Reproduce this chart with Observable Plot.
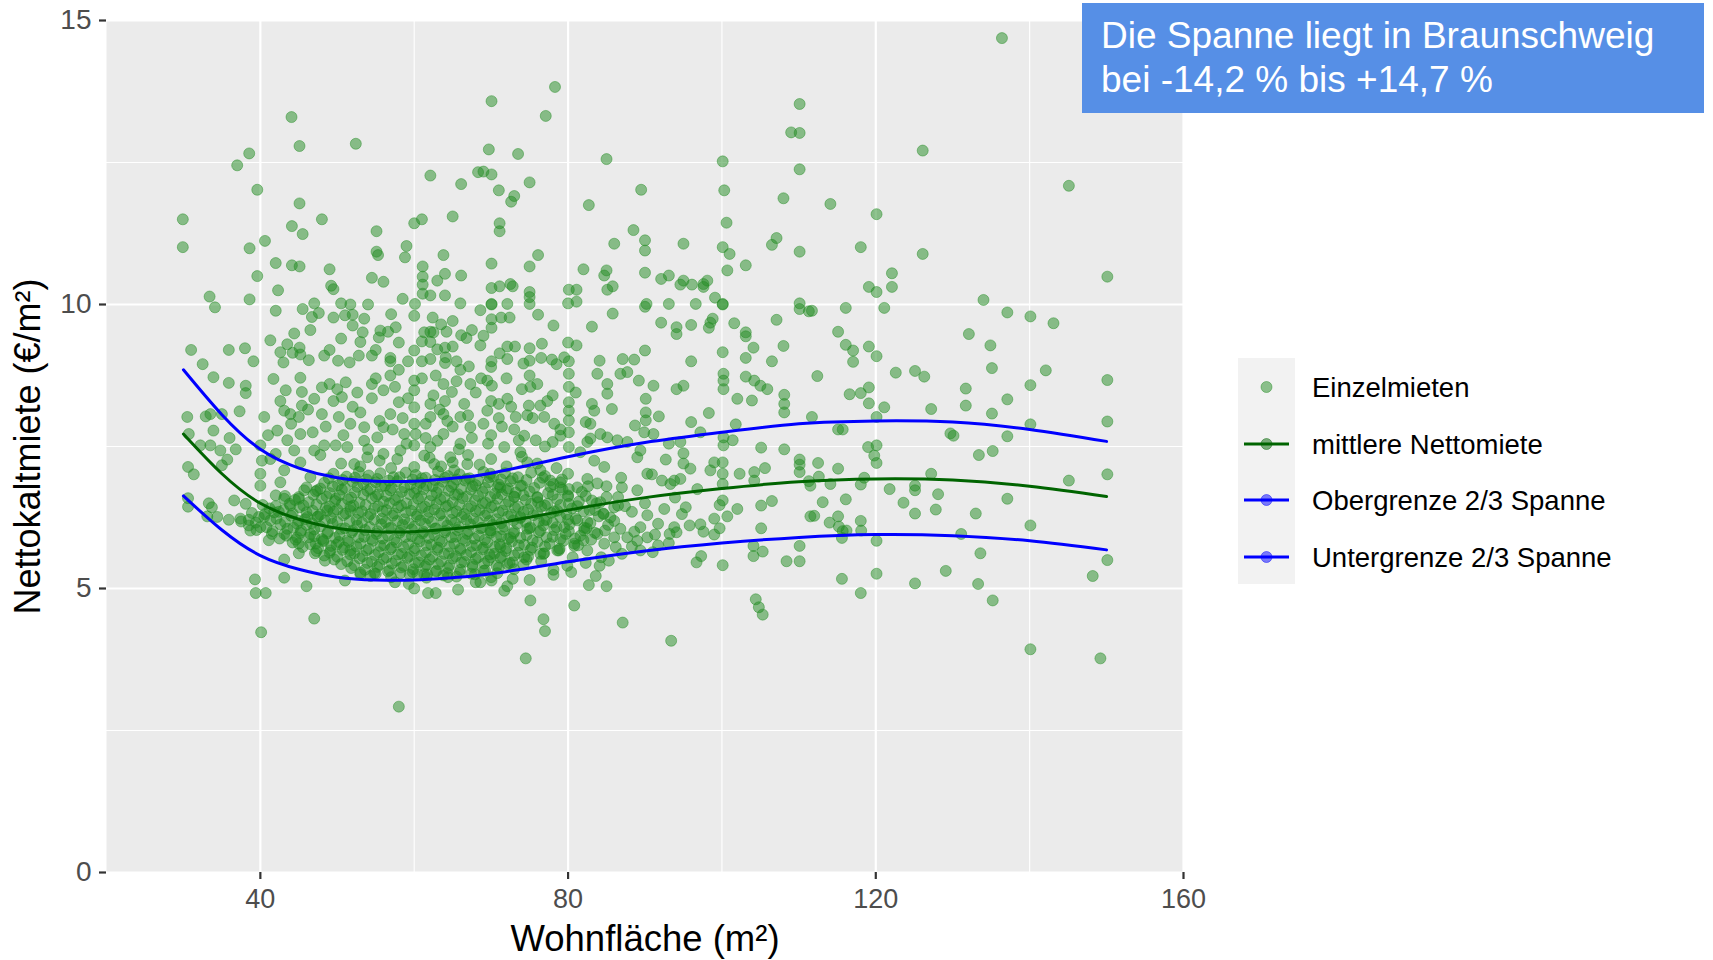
<!DOCTYPE html>
<html>
<head>
<meta charset="utf-8">
<script src="https://cdn.jsdelivr.net/npm/d3@7"></script>
<script src="https://cdn.jsdelivr.net/npm/@observablehq/plot@0.6"></script>
<style>
  html, body { margin: 0; padding: 0; background: #ffffff; }
  #wrap { position: relative; width: 1713px; height: 960px; overflow: hidden; font-family: "Liberation Sans", Arial, sans-serif; }
  #chart { position: absolute; left: 0; top: 0; }
  #titlebox { position: absolute; left: 1082px; top: 3px; width: 603px; height: 99px; padding: 11px 0 0 19px;
    background: #568FE6; color: #ffffff; font-size: 37px; line-height: 44px; white-space: nowrap; }
  #legend { position: absolute; left: 1238px; top: 358px; }
  .lg-row { position: relative; height: 56.5px; }
  .lg-key { position: absolute; left: 0; top: 0; width: 57px; height: 56.5px; background: #F2F2F2; }
  .lg-text { position: absolute; left: 74px; top: 2px; height: 56.5px; line-height: 56.5px; font-size: 27.5px; color: #000; white-space: nowrap; }
</style>
</head>
<body>
<div id="wrap">
  <div id="chart"></div>
  <div id="legend"></div>
  <div id="titlebox">Die Spanne liegt in Braunschweig<br>bei -14,2 % bis +14,7 %</div>
</div>
<script>
// ---------- data ----------
const xTicks = [40, 80, 120, 160];
const yTicks = [0, 5, 10, 15];
const xMinor = [60, 100, 140];
const yMinor = [2.5, 7.5, 12.5];

// fitted curves
const kurveX = [30, 35, 40, 45, 50, 55, 60, 65, 70, 80, 90, 100, 110, 120, 130, 140, 150];
const mittlere = [7.72, 7.02, 6.50, 6.22, 6.06, 6.00, 6.00, 6.05, 6.13, 6.38, 6.60, 6.76, 6.88, 6.93, 6.91, 6.80, 6.62];
const obergrenze = [8.85, 8.06, 7.45, 7.12, 6.95, 6.89, 6.89, 6.94, 7.03, 7.32, 7.57, 7.75, 7.90, 7.95, 7.93, 7.80, 7.59];
const untergrenze = [6.63, 6.03, 5.58, 5.34, 5.20, 5.15, 5.15, 5.19, 5.26, 5.47, 5.66, 5.80, 5.90, 5.95, 5.93, 5.84, 5.68];

// individual rents [Wohnfläche, Nettokaltmiete]
const mietenOben = [
[44.05,13.30],[45.09,12.79],[52.41,12.83],[38.55,12.66],[36.99,12.45],[39.6,12.02],[29.92,11.50],[29.92,11.01],
[45.09,11.78],[48.0,11.50],[44.1,11.38],[45.5,11.24],[40.6,11.12],[38.6,10.99],[42.0,10.73],[44.1,10.69],[45.1,10.67],
[39.6,10.50],[42.3,10.25],[38.6,10.09],[33.4,10.14],[34.1,9.95],[42.0,9.89],[45.5,9.92],[47.0,10.02],[47.6,9.85],
[46.7,9.78],[49.0,10.62],[49.2,10.33],[49.5,10.27],[49.5,9.77],[50.5,10.02],[51.7,10.0],[51.0,9.81],[52.0,9.82],
[52.0,9.63],[53.3,9.51],[53.0,9.34],[55.1,11.29],[55.1,10.93],[55.3,10.87],[54.5,10.47],[57.0,9.83],[55.6,9.54],
[56.6,9.52],[55.4,9.42],[58.0,9.33],[59.0,11.03],[58.8,10.83],[60.0,11.43],[61.0,11.50],[62.1,12.27],[66.1,12.12],
[65.0,11.55],[63.8,10.87],[61.1,10.67],[61.1,10.49],[61.1,10.35],[61.1,10.19],[62.1,10.16],[63.0,10.42],[64.0,10.54],
[66.1,10.51],[64.0,10.16],[60.1,10.01],[66.0,10.02],[62.4,9.77],[65.0,9.71],[61.3,9.51],[62.1,9.52],[62.5,9.51],
[64.2,9.52],[66.1,9.46],[66.8,9.41],[68.3,12.33],[62.1,9.34],[63.0,9.21],[64.0,9.24],[65.0,9.26],[60.0,9.19],
[62.1,9.04],[61.0,9.0],[64.1,9.07],[64.0,8.97],[67.1,8.91],[31.0,9.20],[32.5,8.95],[35.9,9.20],[38.0,9.23],[39.1,9.0],
[41.3,9.37],[44.4,9.49],[42.6,9.16],[43.0,8.98],[44.2,9.15],[45.1,9.24],[45.2,9.12],[46.3,9.02],[49.0,9.20],[50.1,9.01],
[51.6,8.98],[52.8,9.10],[54.5,9.10],[56.9,9.06],[56.9,9.0],
[70.05,13.58],[78.3,13.83],[77.1,13.32],[69.7,12.73],[73.5,12.65],[85.0,12.56],[69.0,12.34],[70.05,12.29],[71.0,12.01],
[73.0,11.91],[72.6,11.81],[75.0,12.15],[89.5,12.02],[82.7,11.75],[71.1,11.43],[71.1,11.29],[88.5,11.31],[90.0,11.13],
[90.0,10.95],[86.0,11.07],[95.0,11.07],[76.1,10.87],[75.0,10.67],[70.05,10.72],[82.0,10.62],[85.0,10.60],[84.7,10.51],
[85.8,10.32],[85.1,10.26],[90.0,10.56],[92.1,10.45],[93.1,10.51],[95.0,10.42],[94.6,10.35],[96.1,10.35],[97.6,10.36],
[98.1,10.42],[97.6,10.31],[99.1,10.12],[100.1,10.01],[100.1,12.52],[100.3,12.01],[100.6,11.44],[100.1,11.01],[101.0,10.89],
[100.7,10.60],[103.1,10.69],[108.0,11.87],[106.5,11.05],[107.1,11.17],[110.1,13.53],[109.0,13.03],[110.1,13.02],
[110.1,12.38],[110.1,10.93],[110.1,10.02],[110.1,9.92],[111.3,9.88],[107.1,9.73],[70.05,10.29],[71.1,10.32],[72.5,10.36],
[72.8,10.32],[75.0,10.22],[75.0,10.13],[75.0,10.01],[70.05,10.01],[70.05,10.0],[72.1,10.01],[80.1,10.26],[81.1,10.26],
[80.0,10.02],[81.1,10.05],[90.2,10.01],[90.0,9.96],[93.1,10.01],[96.6,10.01],[100.1,10.0],[70.05,9.74],[71.3,9.77],
[72.4,9.77],[70.05,9.59],[76.1,9.82],[78.1,9.63],[83.1,9.61],[85.8,9.84],[92.1,9.68],[94.1,9.60],[94.1,9.48],[96.0,9.64],
[98.8,9.75],[98.5,9.68],[98.3,9.59],[101.6,9.67],[103.1,9.51],[103.1,9.44],[104.1,9.24],[108.0,9.27],[106.5,9.0],
[100.1,9.16],[103.1,9.06],[96.0,9.0],[90.0,9.19],[69.0,9.45],[68.6,9.28],[70.05,9.0],[71.1,9.14],[72.1,9.26],[73.1,9.26],
[75.0,9.23],[76.6,9.31],[76.5,9.06],[75.0,9.01],[74.2,8.96],[77.9,9.03],[79.5,9.07],[80.0,9.33],[81.1,9.28],[80.1,9.0],
[84.1,9.01],[87.1,9.04],[88.6,9.03],[72.1,9.04],
[136.4,14.69],[126.1,12.71],[145.1,12.09],[114.1,11.77],[120.1,11.59],[118.05,11.01],[126.1,10.89],[150.1,10.49],
[122.1,10.55],[119.1,10.31],[120.1,10.22],[122.1,10.31],[134.0,10.08],[116.1,9.94],[121.1,9.94],[111.7,9.89],
[137.1,9.86],[140.1,9.79],[143.1,9.67],[115.1,9.52],[132.1,9.48],[116.1,9.29],[117.05,9.19],[119.1,9.26],[120.1,9.09],
[117.05,8.99],[134.9,9.28],[122.6,8.80],[125.1,8.83],[135.1,8.88],[142.1,8.84]
];

const mietenRechts = [
[112.4,8.74],[126.3,8.73],[150.1,8.67],[116.6,8.42],[118.05,8.44],[119.1,8.54],[119.1,8.26],[121.1,8.19],[131.7,8.52],
[131.7,8.22],[137.1,8.33],[140.1,8.58],[127.2,8.16],[135.1,8.08],[111.7,8.02],[120.1,8.02],[115.1,7.80],[115.7,7.80],
[129.7,7.73],[130.1,7.69],[137.1,7.68],[140.1,7.89],[150.1,7.94],[119.0,7.49],[120.1,7.52],[119.8,7.34],[120.1,7.21],
[133.4,7.35],[135.2,7.42],[112.5,7.21],[115.1,7.11],[112.6,6.97],[114.1,6.84],[118.5,6.95],[118.05,6.83],[127.2,7.02],
[125.1,6.81],[125.1,6.73],[121.8,6.75],[145.1,6.90],[150.1,7.01],[111.5,6.81],[113.1,6.52],[116.1,6.57],[123.6,6.51],
[128.1,6.66],[127.8,6.39],[125.1,6.32],[133.0,6.32],[137.1,6.58],[112.0,6.28],[114.0,6.16],[115.1,6.27],[115.2,6.09],
[115.7,6.01],[116.2,6.02],[118.05,6.19],[118.1,6.02],[115.6,5.89],[120.1,5.84],[131.1,5.96],[140.1,6.11],[133.6,5.62],
[150.1,5.50],[148.2,5.22],[129.1,5.31],[120.1,5.26],[115.6,5.17],[125.1,5.09],[133.3,5.08],[118.05,4.92],[135.2,4.79],
[140.1,3.93],[149.2,3.77]
];

const mietenMitte = [
[75.1,4.79],[80.8,4.70],[76.8,4.46],[77.0,4.25],[87.1,4.40],[93.4,4.08],[74.5,3.77],[104.4,4.81],[104.8,4.67],[105.3,4.54],
[71.7,4.96],[72.1,5.04],[72.8,5.17],[75.0,5.15],[70.05,5.14],[68.6,5.11],[82.7,5.06],[85.0,5.04],[83.6,5.22],[80.4,5.29],
[78.1,5.24],[78.1,5.33],[79.9,5.40],[84.1,5.40],[85.3,5.49],[82.3,5.45],[96.7,5.46],[97.3,5.57],[100.1,5.41],[104.1,5.57],
[104.1,5.75],[105.3,5.65],[108.4,5.48],[110.1,5.48],[110.1,5.75],[105.1,6.06],[106.5,6.54],[105.1,6.46],[102.0,6.40],
[100.7,6.27],[99.7,6.47],[100.1,6.55],[99.0,6.23],[99.7,6.06],[99.0,5.95],[97.6,6.00],[97.2,6.13],[95.8,6.11],[94.8,6.31],
[95.3,6.43],[93.8,6.08],[94.1,5.99],[93.2,5.96],[93.1,5.80],[91.7,6.14],[91.7,5.76],[90.3,6.29],[89.4,6.08],[89.0,6.73],
[88.3,6.35],[87.0,6.78],[85.0,6.80],[86.5,6.61],[86.0,6.43],[84.2,6.52],[83.1,6.55],[82.5,6.93],[80.0,7.02],[79.0,6.87],
[81.2,6.78],[80.0,6.64],[83.5,6.38],[84.6,6.31],[86.8,6.05],[87.7,5.90],[89.0,5.84],[90.3,5.90],[91.0,5.64],[88.3,5.74],
[87.0,5.61],[86.2,5.73],[89.4,5.67],[92.7,7.27],[90.9,7.01],[93.8,6.90],[94.6,6.93],[95.9,7.11],[95.0,7.38],[95.0,7.20],
[96.8,6.75],[98.5,7.08],[99.0,7.22],[100.1,7.22],[100.1,7.02],[100.1,6.84],[102.3,7.02],[104.2,7.05],[104.2,6.90],
[105.6,7.12],[105.1,7.48],[108.1,7.45],[110.1,7.27],[110.1,7.18],[110.1,7.05],[111.3,6.89],[111.5,6.27],[93.3,6.84],
[92.2,6.90],[90.3,7.02],[89.0,7.31],[89.4,7.43],[87.7,7.58],[86.4,7.61],[85.1,7.66],[82.9,7.64],[83.4,7.25],[81.6,7.40],
[84.7,7.14],[82.5,7.58],[100.2,8.78],[100.2,8.66],[100.2,8.51],[103.1,8.73],[104.2,8.66],[105.0,8.57],[105.9,8.51],
[102.0,8.34],[103.9,8.31],[108.1,8.41],[108.1,8.25],[108.1,8.10],[98.3,8.09],[96.0,7.93],[97.2,7.75],[100.2,7.66],
[100.2,7.52],[101.8,7.89],[101.4,7.61],[95.0,8.57],[94.1,8.51],[91.1,8.57],[89.2,8.66],[90.1,8.34],[90.1,8.10],[90.1,7.96],
[91.8,8.03],[88.7,7.87],[91.1,7.72],[89.9,7.75],[93.1,7.55],[94.6,7.58],[85.7,8.16],[85.1,8.60],[85.1,8.43],[86.8,8.78],
[87.7,8.81],[83.8,8.78],[83.1,8.25],[83.4,8.13],[82.3,7.93],[82.9,7.90],[84.2,7.72],[80.1,8.78],[80.1,8.55],[80.1,8.28],
[80.1,8.13],[80.1,7.96],[80.1,7.75],[80.1,7.49],[79.0,7.69],[78.0,7.58],[76.4,8.22],[78.2,7.90],[76.9,8.02],[74.9,8.22],
[74.7,8.05],[74.0,8.51],[75.1,8.55],[72.1,8.34],[73.2,8.02],[71.0,8.25],[69.5,8.66],[70.1,8.57],[69.5,8.13],[74.3,7.69],
[75.8,7.61],[73.6,7.61],[71.7,7.49],[74.7,7.22],[76.4,7.08],[77.7,6.90],[79.0,6.78],[80.1,6.49],[81.2,6.20],[78.6,6.37],
[76.9,6.20],[75.1,6.08],[73.8,6.26],[72.5,5.90],[71.2,5.73],[69.9,6.02],[73.0,6.61],[71.2,6.78],[69.9,7.02],[76.0,6.61],
[77.3,6.49],[79.5,6.08],[82.1,6.02],[83.8,5.96],[80.8,5.79],[78.6,5.67],[76.4,5.61],[74.3,5.55],[72.1,5.43],[69.9,5.55],
[82.5,5.67],[84.7,5.79],
[80.6,5.55],[81.8,6.7],[82.9,6.15],[83.8,6.85],[85.5,6.25],[86.9,6.95],[87.4,6.45],[88.6,6.0],[90.0,6.5],[91.3,5.95],
[92.5,6.4],[93.9,6.6],[82.0,5.85],[84.3,5.55],[86.0,5.9]
];

const mietenLinks = [
[39.3,5.16],[39.4,4.92],[40.7,4.92],[43.1,5.19],[46.0,5.04],[47.0,4.47],[40.1,4.23],[58.0,2.92],[43.1,5.51],[51.0,5.14],
[53.0,5.25],[54.8,5.27],[57.5,5.11],[59.3,5.08],[60.0,5.0],[61.8,4.92],[62.8,4.92],[65.7,4.98],[68.0,5.11],[64.4,5.20],
[61.7,5.25],[60.4,5.25],[48.4,5.49],[47.1,5.62],[45.0,5.62],[30.5,8.02],[30.7,7.72],[30.6,7.14],[31.35,7.01],[30.6,6.59],
[30.6,6.44],[32.9,8.03],[33.9,8.72],[35.9,8.62],[38.1,8.57],[38.1,8.44],[37.3,8.12],[35.0,8.07],[33.5,8.07],[33.9,7.78],
[36.0,7.65],[36.8,7.45],[32.2,7.52],[33.5,7.52],[34.8,7.43],[35.7,7.27],[35.0,7.17],[33.3,6.50],[33.7,6.43],[33.1,6.27],
[34.4,6.26],[35.9,6.21],[36.6,6.55],[37.4,6.23],[38.5,6.21],[38.7,6.02],[38.1,6.49],[40.5,8.02],[41.7,8.69],[43.3,8.49],
[45.2,8.71],[45.4,8.46],[47.0,8.34],[48.0,8.54],[50.0,8.51],[50.6,8.37],[51.1,8.63],[43.1,8.13],[43.9,8.07],[45.4,8.22],
[45.0,8.02],[48.0,8.07],[50.2,8.02],[53.0,8.10],[42.2,7.78],[43.5,7.61],[44.4,7.43],[45.2,7.72],[47.0,7.43],[48.3,7.52],
[49.8,7.52],[51.3,7.49],[40.0,7.52],[40.2,7.25],[40.0,7.02],[40.0,6.81],[42.0,7.37],[43.1,7.08],[42.6,6.87],[42.0,6.64],
[41.3,7.28],[45.2,7.22],[46.5,6.96],[47.4,6.73],[45.7,6.73],[45.0,6.58],[43.9,6.46],[43.1,6.58],[41.8,6.34],[40.5,6.26],
[40.0,6.08],[41.1,5.85],[43.1,5.96],[44.8,6.14],[46.1,6.26],[47.4,6.26],[48.7,6.37],[49.8,6.58],[51.7,6.37],[44.8,5.90],
[45.0,5.79],[46.5,5.96],[47.2,5.79],[48.2,5.85],[49.1,5.67],[50.2,5.82],[51.7,5.67],[52.2,7.19],[53.9,7.31],[56.0,7.37],
[51.7,7.90],[53.5,7.84],[55.2,7.66],[56.0,7.84],[56.9,8.07],[56.0,8.49],[54.5,8.60],[56.9,8.75],[58.0,8.28],[60.0,8.66],
[60.0,8.49],[60.0,8.19],[60.2,7.72],[60.0,7.52],[60.0,7.14],[58.2,7.43],[57.8,7.28],[58.7,7.72],[62.1,8.02],[62.1,8.25],
[62.1,7.49],[63.8,8.60],[64.9,8.46],[63.8,8.07],[63.8,7.72],[66.0,8.02],[66.0,7.55],[67.3,8.60],[67.3,7.84],[64.7,7.31],
[62.6,7.19],[61.3,7.34],[66.9,7.19],[65.2,7.08],
[50.5,7.2],[53.0,7.15],[55.5,7.25],[57.0,7.12],[62.0,7.3],[63.5,7.15],[65.0,7.22],[67.0,7.35],[68.5,7.18],[70.0,7.28],
[72.0,7.15],[74.0,7.32],[76.0,7.2],[78.5,7.12],[48.5,7.85],[49.5,8.3],[52.0,8.2],[53.5,7.6],[54.5,8.35],[55.5,7.95],
[57.5,8.55],[58.5,8.0],[59.0,7.55],[61.0,8.7],[61.5,7.9],[62.5,8.4],[63.0,7.6],[64.0,8.3],[65.0,7.85],[65.5,8.65],
[66.5,8.25],[67.5,7.65],[68.0,8.45],[69.0,7.9],[70.0,8.3],[70.0,7.7],[71.0,8.0],[72.0,8.7],[73.0,7.8],[76.0,8.6],
[77.0,7.5],[78.0,8.4],
[44.0,7.9],[46.2,8.15],[47.8,7.35],[49.0,8.6],[50.8,7.7],[52.6,8.45],[54.0,7.45],[55.0,8.7],[57.2,7.8],[59.2,8.35],
[60.0,7.9],[61.5,7.65],[62.8,8.75],[64.3,7.95],[65.8,7.45],[67.0,8.05],[68.7,8.7],[69.6,7.55],[71.4,7.85],[72.6,8.2],
[73.8,7.4],[75.4,8.0],[77.3,8.3],[79.0,7.8],[81.0,8.45],[42.6,8.3],[41.0,7.7],[46.8,7.75],[58.0,8.85],[63.3,8.15],
[66.0,8.85],[70.0,8.9],[75.0,8.75],[78.5,8.95],
[43.5,9.3],[46.5,9.55],[48.3,9.1],[50.5,9.4],[53.5,9.75],[55.0,9.2],[57.6,9.6],[59.2,9.0],[60.0,9.8],[61.0,9.35],
[63.5,9.65],[65.5,9.0],[67.5,9.55],[68.6,9.9],[58.5,10.1],[56.0,10.4],[54.0,10.0]
];

const mietenDicht = [
[49.5,7.02],[51.2,6.97],[52.8,7.05],[54.1,6.99],[55.6,7.03],[57.3,6.96],[58.9,7.04],[60.2,7.0],[61.5,6.95],[63.1,7.06],[64.4,6.98],[65.9,7.01],[67.2,6.94],[69.0,7.05],[70.3,6.97],[71.8,7.03],[73.5,6.96],[75.2,7.04],[77.0,6.98],
[48.3,6.86],[50.1,6.82],[52.0,6.88],[53.4,6.84],[55.0,6.87],[56.2,6.81],[57.8,6.89],[59.5,6.83],[60.8,6.86],[62.4,6.8],[63.7,6.88],[65.1,6.84],[66.6,6.9],[68.0,6.82],[69.6,6.87],[71.0,6.83],[72.5,6.89],[74.0,6.81],[76.3,6.86],[78.1,6.84],
[47.2,6.71],[49.0,6.68],[50.6,6.74],[52.3,6.69],[53.9,6.72],[55.3,6.66],[56.9,6.73],[58.4,6.7],[60.0,6.68],[61.2,6.75],[62.9,6.69],[64.5,6.72],[65.7,6.66],[67.4,6.74],[68.9,6.7],[70.5,6.67],[72.0,6.73],[73.2,6.69],[75.0,6.71],[77.4,6.68],[79.3,6.74],
[44.5,6.56],[46.3,6.52],[48.0,6.58],[49.7,6.54],[51.4,6.57],[52.9,6.51],[54.5,6.59],[56.0,6.53],[57.5,6.56],[59.0,6.5],[60.5,6.58],[62.0,6.54],[63.4,6.57],[65.0,6.52],[66.3,6.59],[67.9,6.55],[69.3,6.51],[70.8,6.58],[72.3,6.53],[74.5,6.56],[76.1,6.52],[78.6,6.57],[81.4,6.53],
[41.2,6.41],[43.0,6.38],[45.1,6.43],[46.8,6.37],[48.5,6.42],[50.0,6.39],[51.7,6.44],[53.2,6.36],[54.8,6.41],[56.4,6.38],[57.9,6.43],[59.6,6.37],[61.0,6.42],[62.6,6.39],[64.1,6.44],[65.5,6.36],[67.0,6.41],[68.5,6.38],[70.0,6.43],[71.5,6.37],[73.1,6.42],[74.8,6.39],[76.5,6.44],[78.2,6.36],[80.5,6.41],[82.8,6.38],
[39.8,6.26],[42.1,6.23],[44.0,6.28],[45.8,6.22],[47.5,6.27],[49.2,6.24],[50.8,6.29],[52.5,6.21],[54.0,6.26],[55.8,6.23],[57.2,6.28],[58.7,6.22],[60.3,6.27],[61.8,6.24],[63.3,6.29],[64.8,6.21],[66.2,6.26],[67.7,6.23],[69.2,6.28],[70.7,6.22],[72.2,6.27],[73.8,6.24],[75.5,6.29],[77.2,6.21],[79.0,6.26],[81.0,6.23],[84.0,6.27],
[38.5,6.11],[40.8,6.08],[42.6,6.13],[44.3,6.07],[46.0,6.12],[47.8,6.09],[49.4,6.14],[51.0,6.06],[52.6,6.11],[54.2,6.08],[55.7,6.13],[57.0,6.07],[58.5,6.12],[60.0,6.09],[61.4,6.14],[62.8,6.06],[64.3,6.11],[65.8,6.08],[67.3,6.13],[68.8,6.07],[70.2,6.12],[71.7,6.09],[73.4,6.14],[75.0,6.06],[76.8,6.11],[78.5,6.08],[80.2,6.13],[82.1,6.07],[85.2,6.12],
[41.5,5.96],[43.4,5.93],[45.2,5.98],[47.0,5.92],[48.7,5.97],[50.3,5.94],[51.9,5.99],[53.5,5.91],[55.1,5.96],[56.6,5.93],[58.1,5.98],[59.7,5.92],[61.1,5.97],[62.6,5.94],[64.0,5.99],[65.4,5.91],[66.9,5.96],[68.4,5.93],[69.9,5.98],[71.3,5.92],[72.9,5.97],[74.6,5.94],[76.2,5.99],[78.0,5.91],[79.7,5.96],[81.6,5.93],[83.5,5.98],
[44.2,5.81],[46.5,5.78],[48.2,5.83],[49.9,5.77],[51.5,5.82],[53.0,5.79],[54.6,5.84],[56.1,5.76],[57.7,5.81],[59.2,5.78],[60.7,5.83],[62.2,5.77],[63.6,5.82],[65.2,5.79],[66.7,5.84],[68.1,5.76],[69.5,5.81],[71.1,5.78],[72.7,5.83],[74.3,5.77],[76.0,5.82],[77.6,5.79],[79.4,5.84],[81.3,5.76],
[47.3,5.66],[49.0,5.63],[50.7,5.68],[52.2,5.62],[53.8,5.67],[55.4,5.64],[56.9,5.69],[58.4,5.61],[60.0,5.66],[61.5,5.63],[63.0,5.68],[64.5,5.62],[66.0,5.67],[67.4,5.64],[68.9,5.69],[70.4,5.61],[71.9,5.66],[73.5,5.63],[75.1,5.68],[76.9,5.62],[78.8,5.67],
[49.6,5.51],[51.3,5.48],[52.9,5.53],[54.5,5.47],[56.0,5.52],[57.6,5.49],[59.1,5.54],[60.6,5.46],[62.0,5.51],[63.5,5.48],[65.0,5.53],[66.5,5.47],[68.0,5.52],[69.6,5.49],[71.2,5.54],[72.8,5.46],[74.6,5.51],[76.5,5.48],
[51.8,5.36],[53.6,5.33],[55.2,5.38],[56.8,5.32],[58.3,5.37],[59.9,5.34],[61.4,5.39],[62.9,5.31],[64.4,5.36],[66.0,5.33],[67.6,5.38],[69.2,5.32],[71.0,5.37],[73.0,5.34],
[54.3,5.22],[57.0,5.2],[59.4,5.24],[61.6,5.19],[63.8,5.23],[65.5,5.21],[67.9,5.25],[70.0,5.2]
];

const mietenDicht2 = [
[48.9,6.94],[50.7,6.91],[52.3,6.95],[53.8,6.92],[55.2,6.93],[56.7,6.90],[58.1,6.96],[59.8,6.92],[61.0,6.94],[62.7,6.91],[64.0,6.95],[65.5,6.92],[66.8,6.93],[68.3,6.90],[69.8,6.96],[71.3,6.92],[72.8,6.94],[74.6,6.91],[76.7,6.95],[79.2,6.92],
[46.0,6.78],[47.8,6.76],[49.4,6.80],[51.0,6.77],[52.6,6.79],[54.3,6.75],[55.7,6.80],[57.1,6.77],[58.7,6.78],[60.3,6.76],[61.6,6.81],[63.2,6.77],[64.8,6.79],[66.1,6.75],[67.6,6.80],[69.2,6.77],[70.8,6.78],[72.2,6.76],[73.8,6.81],[75.6,6.77],[77.7,6.79],[80.1,6.75],[82.6,6.80],
[43.2,6.63],[45.0,6.61],[46.9,6.65],[48.6,6.62],[50.3,6.64],[51.8,6.60],[53.4,6.65],[55.0,6.62],[56.4,6.63],[57.9,6.61],[59.4,6.66],[60.9,6.62],[62.3,6.64],[63.9,6.60],[65.3,6.65],[66.8,6.62],[68.3,6.63],[69.9,6.61],[71.4,6.66],[73.0,6.62],[74.2,6.64],[76.0,6.60],[78.0,6.65],[80.0,6.62],[82.3,6.63],[85.0,6.61],
[40.3,6.47],[42.0,6.45],[43.8,6.49],[45.6,6.46],[47.3,6.48],[49.0,6.44],[50.6,6.49],[52.1,6.46],[53.7,6.47],[55.3,6.45],[56.8,6.50],[58.3,6.46],[59.9,6.48],[61.4,6.44],[62.9,6.49],[64.4,6.46],[65.9,6.47],[67.4,6.45],[68.9,6.50],[70.4,6.46],[71.9,6.48],[73.5,6.44],[75.2,6.49],[77.0,6.46],[79.0,6.47],[81.2,6.45],[83.7,6.50],[86.5,6.46],
[38.9,6.33],[40.6,6.31],[42.4,6.35],[44.2,6.32],[46.0,6.34],[47.8,6.30],[49.5,6.35],[51.1,6.32],[52.7,6.33],[54.3,6.31],[55.9,6.36],[57.4,6.32],[58.9,6.34],[60.4,6.30],[61.9,6.35],[63.5,6.32],[65.0,6.33],[66.5,6.31],[68.0,6.36],[69.5,6.32],[71.0,6.34],[72.6,6.30],[74.2,6.35],[76.0,6.32],[77.8,6.33],[79.8,6.31],[82.0,6.36],[84.6,6.32],
[37.5,6.18],[39.4,6.16],[41.3,6.20],[43.2,6.17],[45.0,6.19],[46.7,6.15],[48.4,6.20],[50.0,6.17],[51.6,6.18],[53.2,6.16],[54.8,6.21],[56.3,6.17],[57.8,6.19],[59.3,6.15],[60.8,6.20],[62.3,6.17],[63.8,6.18],[65.3,6.16],[66.8,6.21],[68.3,6.17],[69.8,6.19],[71.3,6.15],[72.9,6.20],[74.5,6.17],[76.2,6.18],[78.0,6.16],[80.0,6.21],[82.5,6.17],[86.0,6.19],
[39.5,6.03],[41.6,6.01],[43.5,6.05],[45.3,6.02],[47.0,6.04],[48.8,6.00],[50.5,6.05],[52.0,6.02],[53.6,6.03],[55.2,6.01],[56.7,6.06],[58.2,6.02],[59.7,6.04],[61.2,6.00],[62.7,6.05],[64.1,6.02],[65.6,6.03],[67.1,6.01],[68.6,6.06],[70.0,6.02],[71.5,6.04],[73.0,6.00],[74.7,6.05],[76.4,6.02],[78.2,6.03],[80.1,6.01],[82.4,6.06],[84.8,6.02],
[42.5,5.88],[44.6,5.86],[46.3,5.90],[48.0,5.87],[49.7,5.89],[51.3,5.85],[52.8,5.90],[54.4,5.87],[55.9,5.88],[57.4,5.86],[58.9,5.91],[60.4,5.87],[61.9,5.89],[63.3,5.85],[64.8,5.90],[66.3,5.87],[67.8,5.88],[69.2,5.86],[70.7,5.91],[72.2,5.87],[73.8,5.89],[75.4,5.85],[77.2,5.90],[79.0,5.87],[80.9,5.88],[83.0,5.86],
[45.5,5.73],[47.5,5.71],[49.2,5.75],[50.9,5.72],[52.5,5.74],[54.1,5.70],[55.6,5.75],[57.1,5.72],[58.6,5.73],[60.1,5.71],[61.6,5.76],[63.1,5.72],[64.6,5.74],[66.0,5.70],[67.5,5.75],[69.0,5.72],[70.5,5.73],[72.0,5.71],[73.6,5.76],[75.3,5.72],[77.0,5.74],[78.9,5.70],[80.8,5.75],
[48.3,5.58],[50.0,5.56],[51.7,5.60],[53.3,5.57],[54.9,5.59],[56.4,5.55],[57.9,5.60],[59.4,5.57],[60.9,5.58],[62.4,5.56],[63.9,5.61],[65.4,5.57],[66.8,5.59],[68.3,5.55],[69.8,5.60],[71.4,5.57],[73.0,5.58],[74.8,5.56],[76.8,5.61],
[50.5,5.43],[52.2,5.41],[53.9,5.45],[55.5,5.42],[57.1,5.44],[58.6,5.40],[60.1,5.45],[61.6,5.42],[63.1,5.43],[64.6,5.41],[66.1,5.46],[67.6,5.42],[69.1,5.44],[70.7,5.40],[72.4,5.45],[74.2,5.42],
[53.0,5.28],[55.0,5.26],[56.6,5.30],[58.2,5.27],[59.8,5.29],[61.3,5.25],[62.8,5.30],[64.3,5.27],[65.9,5.28],[67.4,5.26],[69.0,5.31],[70.8,5.27]
];

const einzelmieten = [...mietenOben, ...mietenRechts, ...mietenMitte, ...mietenLinks, ...mietenDicht, ...mietenDicht2];

const legendLabels = ["Einzelmieten", "mittlere Nettomiete", "Obergrenze 2/3 Spanne", "Untergrenze 2/3 Spanne"];
const legendColors = ["#228B22", "#006400", "#0000FF", "#0000FF"];

// ---------- chart ----------
const kurve = kurveX.map((x, i) => ({x, m: mittlere[i], o: obergrenze[i], u: untergrenze[i]}));

const chart = Plot.plot({
  width: 1713,
  height: 960,
  marginLeft: 106,
  marginRight: 530,
  marginTop: 20,
  marginBottom: 88,
  x: {domain: [20, 160]},
  y: {domain: [0, 15]},
  style: {fontFamily: "'Liberation Sans', Arial, sans-serif", background: "white", overflow: "visible"},
  marks: [
    Plot.frame({fill: "#EBEBEB", stroke: "none"}),
    Plot.ruleX(xMinor, {stroke: "white", strokeWidth: 1.1}),
    Plot.ruleY(yMinor, {stroke: "white", strokeWidth: 1.1}),
    Plot.ruleX(xTicks, {stroke: "white", strokeWidth: 2.2}),
    Plot.ruleY(yTicks, {stroke: "white", strokeWidth: 2.2}),
    Plot.dot(einzelmieten, {x: d => d[0], y: d => d[1], r: 5.5, fill: "#228B22", fillOpacity: 0.5,
      stroke: "#228B22", strokeOpacity: 0.45, strokeWidth: 1}),
    Plot.line(kurve, {x: "x", y: "m", stroke: "#006400", strokeWidth: 3, curve: "natural"}),
    Plot.line(kurve, {x: "x", y: "o", stroke: "#0000FF", strokeWidth: 3, curve: "natural"}),
    Plot.line(kurve, {x: "x", y: "u", stroke: "#0000FF", strokeWidth: 3, curve: "natural"}),
    Plot.axisX({ticks: xTicks, tickSize: 7, tickPadding: 9, fontSize: 27, stroke: "#333333", fill: "#4D4D4D",
      strokeWidth: 2.2, label: null}),
    Plot.axisY({ticks: yTicks, tickSize: 7, tickPadding: 8, fontSize: 28, stroke: "#333333", fill: "#4D4D4D",
      strokeWidth: 2.2, label: null}),
    Plot.text(["Wohnfläche (m²)"], {text: d => d, frameAnchor: "bottom", dy: 67, textAnchor: "middle",
      lineAnchor: "middle", fontSize: 36.5, fill: "#000"}),
    Plot.text(["Nettokaltmiete (€/m²)"], {text: d => d, frameAnchor: "left", dx: -78, rotate: -90,
      textAnchor: "middle", lineAnchor: "middle", fontSize: 36, fill: "#000"})
  ]
});
document.getElementById("chart").appendChild(chart);

// ---------- legend ----------
const legend = document.getElementById("legend");
legendLabels.forEach((lab, i) => {
  const row = document.createElement("div");
  row.className = "lg-row";
  const col = legendColors[i];
  const line = i === 0 ? "" : `<line x1="6" x2="51" y1="29" y2="29" stroke="${col}" stroke-width="3"/>`;
  row.innerHTML = `<div class="lg-key"><svg width="57" height="57">${line}
    <circle cx="28.5" cy="29" r="5.5" fill="${col}" fill-opacity="0.5" stroke="${col}" stroke-opacity="0.45"/></svg></div>
    <div class="lg-text">${lab}</div>`;
  legend.appendChild(row);
});
</script>
</body>
</html>
